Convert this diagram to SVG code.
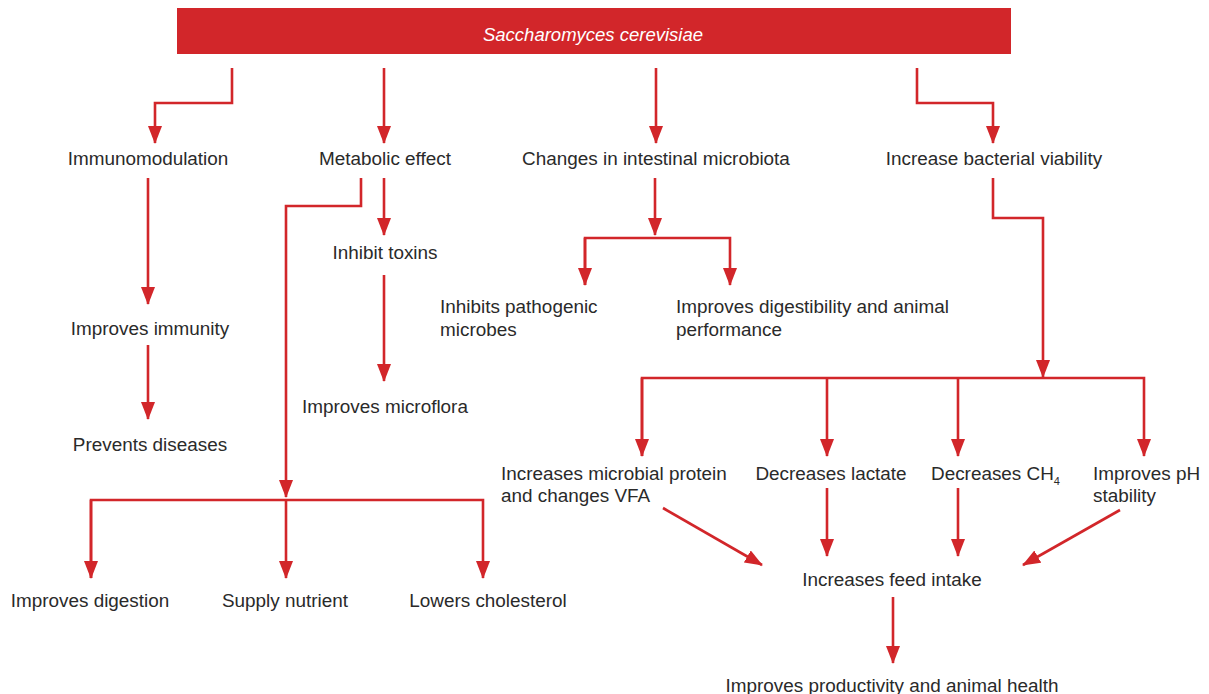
<svg xmlns="http://www.w3.org/2000/svg" width="1209" height="694" viewBox="0 0 1209 694">
<style>
text{font-family:"Liberation Sans",Arial,sans-serif;font-size:18.9px;fill:#2a2a2a}
.c{text-anchor:middle}
.ln{fill:none;stroke:#d2262a;stroke-width:2.6}
.hd{fill:#d2262a}
.ht{fill:#ffffff;font-style:italic;font-size:18.5px}
</style>
<defs>
<marker id="ah" viewBox="0 0 18 14" refX="17" refY="7" markerWidth="18" markerHeight="14" markerUnits="userSpaceOnUse" orient="auto">
<path d="M0,0 L18,7 L0,14 z" fill="#d2262a"/>
</marker>
</defs>
<g id="header">
<rect class="hd" x="177" y="8" width="834" height="46"/>
<text class="ht c" x="593" y="41">Saccharomyces cerevisiae</text>
</g>
<g id="connectors">
<path class="ln" d="M232,68 V103 H155 V143" marker-end="url(#ah)"/>
<path class="ln" d="M384,68 V143" marker-end="url(#ah)"/>
<path class="ln" d="M656,68 V143" marker-end="url(#ah)"/>
<path class="ln" d="M917,68 V103 H993 V143" marker-end="url(#ah)"/>
<path class="ln" d="M148,178 V304" marker-end="url(#ah)"/>
<path class="ln" d="M148,345 V419" marker-end="url(#ah)"/>
<path class="ln" d="M384,178 V235" marker-end="url(#ah)"/>
<path class="ln" d="M384,275 V381" marker-end="url(#ah)"/>
<path class="ln" d="M361,178 V206 H286 V497" marker-end="url(#ah)"/>
<path class="ln" d="M91,578 V500 H483 V578" marker-end="url(#ah)"/>
<path class="ln" d="M286,500 V578" marker-end="url(#ah)"/>
<path class="ln" d="M91,500 V578" marker-end="url(#ah)"/>
<path class="ln" d="M655,178 V235" marker-end="url(#ah)"/>
<path class="ln" d="M585,285 V238 H730 V285" marker-end="url(#ah)"/>
<path class="ln" d="M585,238 V285" marker-end="url(#ah)"/>
<path class="ln" d="M993,178 V218 H1043 V377" marker-end="url(#ah)"/>
<path class="ln" d="M642,456 V378 H1144 V456" marker-end="url(#ah)"/>
<path class="ln" d="M642,378 V456" marker-end="url(#ah)"/>
<path class="ln" d="M827,378 V456" marker-end="url(#ah)"/>
<path class="ln" d="M958,378 V456" marker-end="url(#ah)"/>
<path class="ln" d="M663,508 L762,565" marker-end="url(#ah)"/>
<path class="ln" d="M827,488 V556" marker-end="url(#ah)"/>
<path class="ln" d="M958,488 V556" marker-end="url(#ah)"/>
<path class="ln" d="M1120,510 L1023,565" marker-end="url(#ah)"/>
<path class="ln" d="M893,597 V663" marker-end="url(#ah)"/>
</g>
<g id="immunomodulation"><text class="c" x="148" y="165">Immunomodulation</text></g>
<g id="metabolic"><text class="c" x="385" y="165">Metabolic effect</text></g>
<g id="changes"><text class="c" x="656" y="165">Changes in intestinal microbiota</text></g>
<g id="viability"><text class="c" x="994" y="165">Increase bacterial viability</text></g>
<g id="immunity"><text class="c" x="150" y="335">Improves immunity</text></g>
<g id="diseases"><text class="c" x="150" y="451">Prevents diseases</text></g>
<g id="toxins"><text class="c" x="385" y="259">Inhibit toxins</text></g>
<g id="microflora"><text class="c" x="385" y="413">Improves microflora</text></g>
<g id="digestion"><text class="c" x="90" y="607">Improves digestion</text></g>
<g id="nutrient"><text class="c" x="285" y="607">Supply nutrient</text></g>
<g id="cholesterol"><text class="c" x="488" y="607">Lowers cholesterol</text></g>
<g id="pathogenic"><text x="440" y="313">Inhibits pathogenic</text><text x="440" y="336">microbes</text></g>
<g id="digestibility"><text x="676" y="313">Improves digestibility and animal</text><text x="676" y="336">performance</text></g>
<g id="protein"><text x="501" y="480">Increases microbial protein</text><text x="501" y="502">and changes VFA</text></g>
<g id="lactate"><text class="c" x="831" y="480">Decreases lactate</text></g>
<g id="ch4"><text x="931" y="480">Decreases CH<tspan font-size="11" dy="5">4</tspan></text></g>
<g id="ph"><text x="1093" y="480">Improves pH</text><text x="1093" y="502">stability</text></g>
<g id="feed"><text class="c" x="892" y="586">Increases feed intake</text></g>
<g id="productivity"><text class="c" x="892" y="692">Improves productivity and animal health</text></g>
</svg>
